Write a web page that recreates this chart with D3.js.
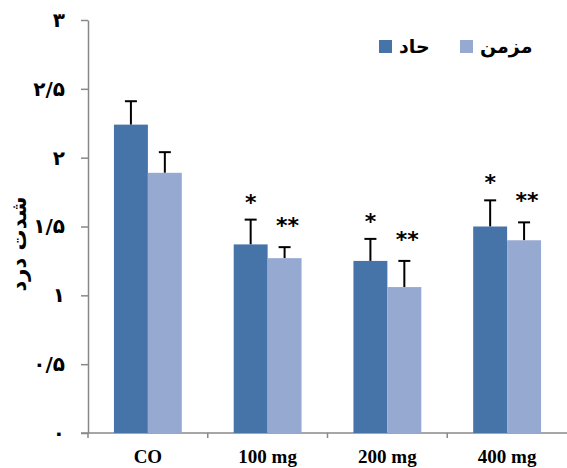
<!DOCTYPE html>
<html>
<head>
<meta charset="utf-8">
<script src="https://cdn.jsdelivr.net/npm/d3@7"></script>
<style>
	body { margin: 0; background: #fff; }
	svg { display: block; }
</style>
</head>
<body>
<div id="chart"></div>
<script>
// chart data
const categories = ["CO", "100 mg", "200 mg", "400 mg"];
const seriesNames = ["حاد", "مزمن"];
const acuteValues = [2.24, 1.37, 1.25, 1.50];
const acuteErrors = [0.17, 0.18, 0.16, 0.19];
const chronicValues = [1.89, 1.27, 1.06, 1.40];
const chronicErrors = [0.15, 0.08, 0.19, 0.13];
const acuteMarks = ["", "*", "*", "*"];
const chronicMarks = ["", "**", "**", "**"];
const yTicks = [0, 0.5, 1, 1.5, 2, 2.5, 3];
const yTickLabels = ["۰", "۰/۵", "۱", "۱/۵", "۲", "۲/۵", "۳"];
const yTitle = "شدت درد";

const colors = ["#4673A8", "#95A9D1"];
const margin = {top: 20, right: 0, bottom: 35, left: 88};
const width = 567, height = 468;
const widthLessMargins = width - margin.left - margin.right;
const heightLessMargins = height - margin.top - margin.bottom;

// rows for the grouped bars
const rows = categories.map((c, i) => ({
	category: c,
	bars: [
		{series: 0, value: acuteValues[i], err: acuteErrors[i], mark: acuteMarks[i]},
		{series: 1, value: chronicValues[i], err: chronicErrors[i], mark: chronicMarks[i]}
	]
}));

let svg = d3.select("#chart").append("svg")
	.attr("width", width)
	.attr("height", height);

let g = svg.append("g")
	.attr("transform", `translate(${margin.left},${margin.top})`);

//scales
const x0 = d3.scaleBand()
	.domain(categories)
	.range([0, widthLessMargins])
	.paddingInner(0.4333)
	.paddingOuter(0.2167);

const x1 = d3.scaleBand()
	.domain([0, 1])
	.range([0, x0.bandwidth()]);

const y = d3.scaleLinear()
	.domain([0, 3])
	.range([heightLessMargins, 0]);

//y axis
let yAxis = g.append("g")
	.call(d3.axisLeft(y)
		.tickValues(yTicks)
		.tickFormat((d, i) => yTickLabels[i])
		.tickSize(7)
		.tickSizeOuter(0)
		.tickPadding(16));
yAxis.select(".domain").attr("stroke", "#888").attr("stroke-width", 1.5);
yAxis.selectAll(".tick line").attr("stroke", "#888").attr("stroke-width", 1.5);
yAxis.selectAll(".tick text")
	.attr("font-family", "DejaVu Sans")
	.attr("font-weight", "bold")
	.attr("font-size", 20)
	.attr("fill", "#000");

//x axis
let xAxis = g.append("g")
	.attr("transform", `translate(0,${heightLessMargins})`)
	.call(d3.axisBottom(x0).tickSize(0).tickPadding(17));
xAxis.select(".domain").remove();
xAxis.selectAll(".tick text")
	.attr("font-family", "Liberation Serif")
	.attr("font-weight", "bold")
	.attr("font-size", 19)
	.attr("fill", "#000");

xAxis.append("line")
	.attr("x1", -7).attr("x2", widthLessMargins)
	.attr("stroke", "#888").attr("stroke-width", 1.5);

const step = x0.step();
const boundaries = categories.map(c => x0(c) - (step - x0.bandwidth()) / 2);
xAxis.selectAll(".bound").data(boundaries).join("line")
	.attr("class", "bound")
	.attr("x1", d => d).attr("x2", d => d)
	.attr("y1", 0).attr("y2", 5)
	.attr("stroke", "#888").attr("stroke-width", 1.5);

//bars
let groups = g.selectAll(".group").data(rows).join("g")
	.attr("class", "group")
	.attr("transform", d => `translate(${x0(d.category)},0)`);

groups.selectAll(".err").data(d => d.bars).join("g")
	.attr("class", "err")
	.each(function(d) {
		const cx = x1(d.series) + x1.bandwidth() / 2;
		const sel = d3.select(this);
		sel.append("line")
			.attr("x1", cx).attr("x2", cx)
			.attr("y1", y(d.value)).attr("y2", y(d.value + d.err))
			.attr("stroke", "#000").attr("stroke-width", 2);
		sel.append("line")
			.attr("x1", cx - 6).attr("x2", cx + 6)
			.attr("y1", y(d.value + d.err)).attr("y2", y(d.value + d.err))
			.attr("stroke", "#000").attr("stroke-width", 2);
	});

groups.selectAll(".bar").data(d => d.bars).join("rect")
	.attr("class", "bar")
	.attr("x", d => x1(d.series))
	.attr("y", d => y(d.value))
	.attr("width", x1.bandwidth())
	.attr("height", d => heightLessMargins - y(d.value))
	.attr("fill", d => colors[d.series]);

//significance marks
groups.selectAll(".mark").data(d => d.bars.filter(b => b.mark)).join("text")
	.attr("class", "mark")
	.attr("x", d => x1(d.series) + x1.bandwidth() / 2 + (d.series ? 3 : 0))
	.attr("y", d => y(d.value + d.err) - (d.series ? 14 : 10))
	.attr("text-anchor", "middle")
	.attr("font-family", "DejaVu Sans")
	.attr("font-weight", "bold")
	.attr("font-size", 22)
	.attr("fill", "#000")
	.text(d => d.mark);

//y title
svg.append("text")
	.attr("transform", "translate(26,244) rotate(-90)")
	.attr("text-anchor", "middle")
	.attr("font-family", "DejaVu Sans")
	.attr("font-weight", "bold")
	.attr("font-size", 21)
	.text(yTitle);

//legend
const legendX = [379, 460];
let legend = svg.selectAll(".legend").data(seriesNames).join("g")
	.attr("class", "legend")
	.attr("transform", (d, i) => `translate(${legendX[i]},40)`);
legend.append("rect")
	.attr("width", 13).attr("height", 13)
	.attr("fill", (d, i) => colors[i]);
legend.append("text")
	.attr("x", 20).attr("y", 13)
	.attr("font-family", "DejaVu Sans")
	.attr("font-weight", "bold")
	.attr("font-size", 19)
	.attr("direction", "ltr")
	.text(d => d);
</script>
</body>
</html>
